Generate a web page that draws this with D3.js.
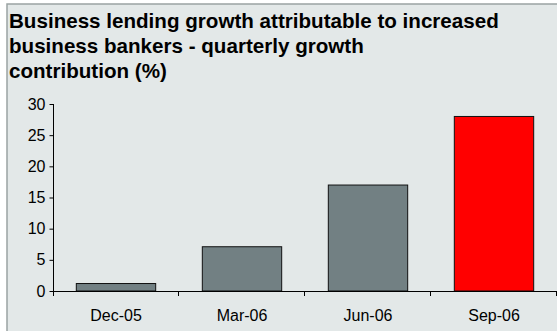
<!DOCTYPE html>
<html>
<head>
<meta charset="utf-8">
<script src="https://cdn.jsdelivr.net/npm/d3@7"></script>
<style>
  body { margin: 0; background: #fff; }
  svg { display: block; font-family: "Liberation Sans", Arial, sans-serif; }
</style>
</head>
<body>
<div class="chart"></div>
<script>
var categories = ["Dec-05", "Mar-06", "Jun-06", "Sep-06"];
var values = [1.2, 7.1, 17, 28];
var barColors = ["#728083", "#728083", "#728083", "#ff0000"];
var yTicks = [0, 5, 10, 15, 20, 25, 30];
var titleLines = [
    "Business lending growth attributable to increased",
    "business bankers - quarterly growth",
    "contribution (%)"
];

var width = 557, height = 331;

var svg = d3
    .select(".chart")
    .append("svg")
    .attr("width", width)
    .attr("height", height);

// panel background with a border on the left and top
svg.append("rect")
    .attr("x", 7)
    .attr("y", 4)
    .attr("width", width)
    .attr("height", height)
    .attr("fill", "#e3e8e8")
    .attr("stroke", "#9aa3a3")
    .attr("stroke-width", 1.5);

svg.append("g")
    .selectAll("text")
    .data(titleLines)
    .enter()
    .append("text")
    .attr("x", 9)
    .attr("y", (d, i) => 28 + i * 25)
    .attr("font-size", "20.6px")
    .attr("font-weight", "bold")
    .attr("fill", "#000")
    .text((d) => d);

var x = d3.scaleBand().domain(categories).range([53, 557]).paddingInner(0.37).paddingOuter(0.185);
var bandAll = d3.scaleBand().domain(categories).range([53, 557]);
var y = d3.scaleLinear().domain([0, 30]).range([291, 104]);

// bars
svg.append("g")
    .selectAll("rect")
    .data(categories)
    .enter()
    .append("rect")
    .attr("x", (d) => x(d))
    .attr("y", (d, i) => y(values[i]))
    .attr("width", x.bandwidth())
    .attr("height", (d, i) => y(0) - y(values[i]))
    .attr("fill", (d, i) => barColors[i])
    .attr("stroke", "#111")
    .attr("stroke-width", 1);

// y axis
var yAxis = svg.append("g")
    .attr("transform", "translate(53.5,0)")
    .call(d3.axisLeft(y).tickValues(yTicks).tickSize(4).tickSizeOuter(0));
yAxis.select(".domain").remove();
yAxis.append("line")
    .attr("x1", 0).attr("x2", 0)
    .attr("y1", y(30)).attr("y2", y(0) + 5)
    .attr("stroke", "#000");
yAxis.selectAll(".tick line").attr("stroke", "#000");
yAxis.selectAll(".tick text")
    .attr("x", -8)
    .attr("font-size", "16px")
    .attr("fill", "#000")
    .attr("font-family", "Liberation Sans, Arial, sans-serif");

// x axis: baseline with boundary ticks between categories
var xg = svg.append("g");
xg.append("line")
    .attr("x1", 53).attr("x2", 557)
    .attr("y1", y(0) + 0.5).attr("y2", y(0) + 0.5)
    .attr("stroke", "#000");
xg.selectAll(".bound")
    .data(categories)
    .enter()
    .append("line")
    .attr("class", "bound")
    .attr("x1", (d) => Math.round(bandAll(d) + bandAll.bandwidth()) - 0.5)
    .attr("x2", (d) => Math.round(bandAll(d) + bandAll.bandwidth()) - 0.5)
    .attr("y1", y(0))
    .attr("y2", y(0) + 5)
    .attr("stroke", "#000");
xg.selectAll("text")
    .data(categories)
    .enter()
    .append("text")
    .attr("x", (d) => bandAll(d) + bandAll.bandwidth() / 2)
    .attr("y", 321)
    .attr("text-anchor", "middle")
    .attr("font-size", "16px")
    .attr("fill", "#000")
    .text((d) => d);
</script>
</body>
</html>
